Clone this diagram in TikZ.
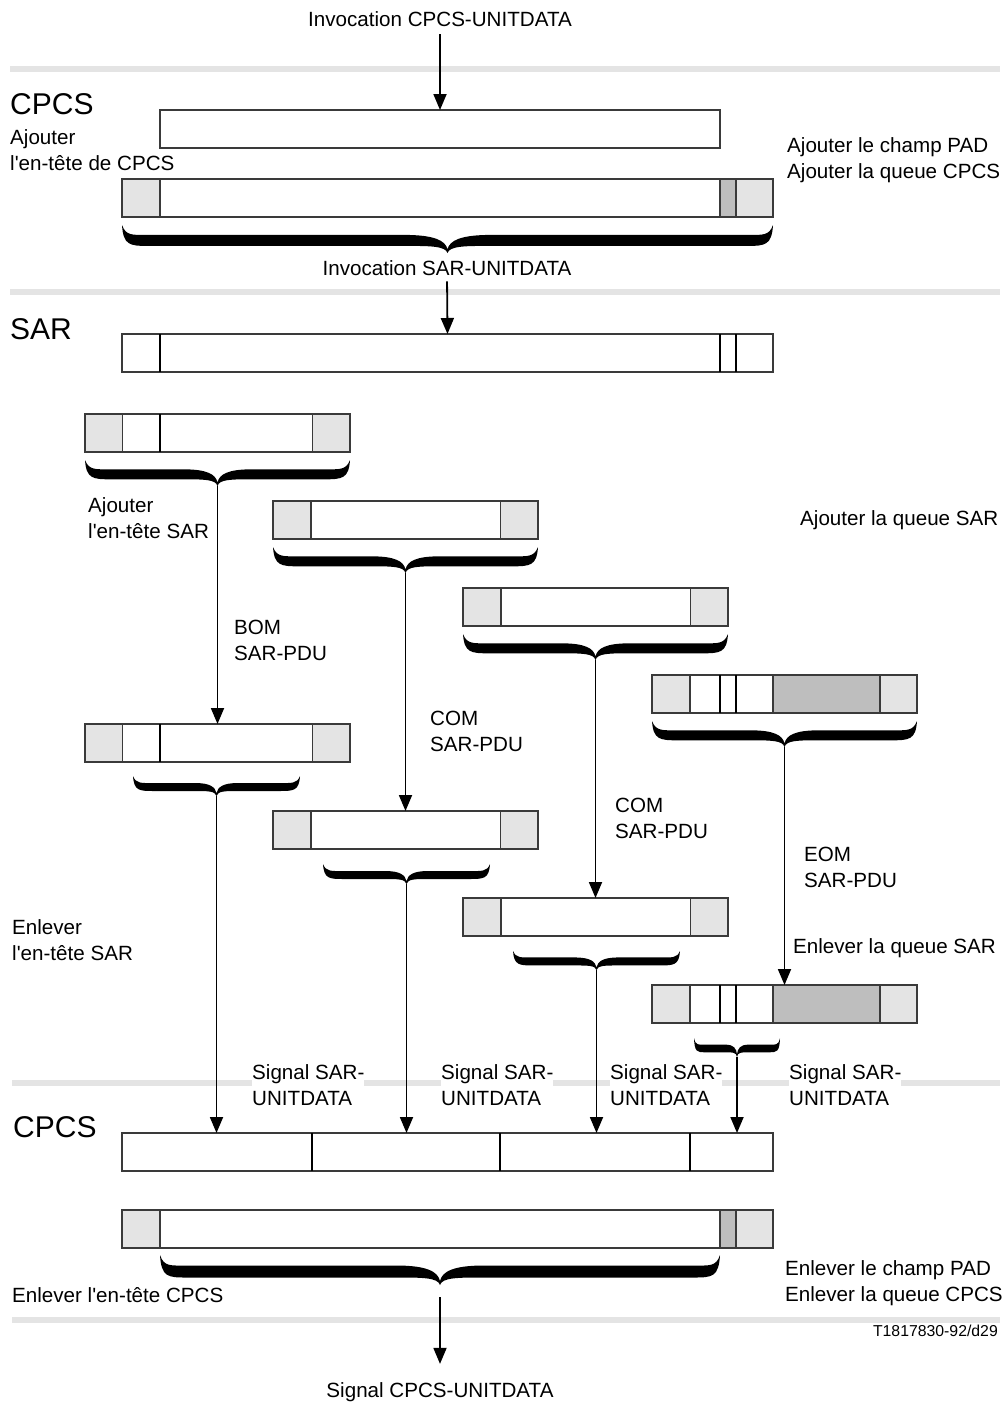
\documentclass[tikz,border=0pt]{standalone}
\usepackage{fontspec}
\setmainfont{Liberation Sans}[Ligatures=TeXOff]
\usetikzlibrary{arrows.meta,calc}

\definecolor{bandgray}{HTML}{E4E4E4}
\definecolor{lightcell}{HTML}{E4E4E4}
\definecolor{darkcell}{HTML}{BEBEBE}
\definecolor{edge}{HTML}{3A3A3A}

\tikzset{
  lbl/.style={font=\fontsize{20.6}{26}\selectfont, inner sep=0pt, anchor=base west},
  twoline/.style={font=\fontsize{20.6}{26}\selectfont, inner sep=0pt, align=left, anchor=north west},
  big/.style={font=\fontsize{30}{34}\selectfont, inner sep=0pt, anchor=base west},
  frame/.style={draw=edge, line width=1.3pt, inner sep=0pt, outer sep=0pt, minimum height=38pt, anchor=north west},
  cellL/.style={fill=lightcell, draw=edge, line width=1.1pt},
  cellD/.style={fill=darkcell, draw=edge, line width=1.1pt},
  sepline/.style={line width=2.6pt, black},
  band/.style={draw=bandgray, line width=6pt},
  arr/.style={line width=1.8pt, -{Triangle[length=16pt,width=13pt]}},
}

% heavy curly brace opening upwards: left x, right x, top y, tip y, half thickness, tip name
\newcommand{\heavybrace}[6]{%
  \pgfmathsetmacro\hbL{#1}%
  \pgfmathsetmacro\hbR{#2}%
  \pgfmathsetmacro\hbT{#3}%
  \pgfmathsetmacro\hbB{#4}%
  \pgfmathsetmacro\hbt{#5}%
  \pgfmathsetmacro\hbC{(\hbL+\hbR)/2}%
  \pgfmathsetmacro\hbA{\hbT+0.55*(\hbB-\hbT)}%
  \pgfmathsetmacro\hbN{\hbB-0.3*(\hbB-\hbA)}%
  \pgfmathsetmacro\hbr{min(26,0.12*(\hbR-\hbL))}%
  \pgfmathsetmacro\hbm{min(44,0.13*(\hbR-\hbL))}%
  \fill[black]
    (\hbL,\hbT) .. controls (\hbL+0.05*\hbr,\hbA+0.9*\hbt) and (\hbL+0.3*\hbr,\hbA+\hbt) .. (\hbL+\hbr,\hbA+\hbt)
    -- (\hbC-\hbm,\hbA+\hbt)
    .. controls (\hbC-0.4*\hbm,\hbA+\hbt) and (\hbC-0.05*\hbm,\hbA+\hbt) .. (\hbC,\hbB)
    .. controls (\hbC+0.05*\hbm,\hbA+\hbt) and (\hbC+0.4*\hbm,\hbA+\hbt) .. (\hbC+\hbm,\hbA+\hbt)
    -- (\hbR-\hbr,\hbA+\hbt)
    .. controls (\hbR-0.3*\hbr,\hbA+\hbt) and (\hbR-0.05*\hbr,\hbA+0.9*\hbt) .. (\hbR,\hbT)
    .. controls (\hbR-0.15*\hbr,\hbA-0.8*\hbt) and (\hbR-0.4*\hbr,\hbA-\hbt) .. (\hbR-\hbr,\hbA-\hbt)
    -- (\hbC+\hbm,\hbA-\hbt)
    .. controls (\hbC+0.3*\hbm,\hbA-\hbt) and (\hbC+0.05*\hbm,\hbA) .. (\hbC,\hbN)
    .. controls (\hbC-0.05*\hbm,\hbA) and (\hbC-0.3*\hbm,\hbA-\hbt) .. (\hbC-\hbm,\hbA-\hbt)
    -- (\hbL+\hbr,\hbA-\hbt)
    .. controls (\hbL+0.4*\hbr,\hbA-\hbt) and (\hbL+0.15*\hbr,\hbA-0.8*\hbt) .. (\hbL,\hbT) -- cycle;
  \coordinate (#6) at (\hbC,\hbB);
}

% SAR-PDU boxes (265 wide): name, left x, top y
\newcommand{\pduBOM}[3]{%
  \node[frame, minimum width=265pt] (#1) at (#2,#3) {};
  \begin{scope}[shift={(#1.north west)}]
    \filldraw[cellL] (0,0) rectangle (37.5,38);
    \filldraw[cellL] (227.5,0) rectangle (265,38);
    \draw[sepline] (75,0) -- (75,38);
  \end{scope}}
\newcommand{\pduCOM}[3]{%
  \node[frame, minimum width=265pt] (#1) at (#2,#3) {};
  \begin{scope}[shift={(#1.north west)}]
    \filldraw[cellL] (0,0) rectangle (38,38);
    \filldraw[cellL] (227.5,0) rectangle (265,38);
  \end{scope}}
\newcommand{\pduEOM}[3]{%
  \node[frame, minimum width=265pt] (#1) at (#2,#3) {};
  \begin{scope}[shift={(#1.north west)}]
    \filldraw[cellL] (0,0) rectangle (38,38);
    \filldraw[cellD] (121,0) rectangle (228,38);
    \filldraw[cellL] (228,0) rectangle (265,38);
    \draw[sepline] (68,0) -- (68,38);
    \draw[sepline] (84,0) -- (84,38);
  \end{scope}}
% CPCS-PDU with header, PAD and trailer: name, top y
\newcommand{\cpcspdu}[2]{%
  \node[frame, minimum width=651pt] (#1) at (122,#2) {};
  \begin{scope}[shift={(#1.north west)}]
    \filldraw[cellL] (0,0) rectangle (38,38);
    \filldraw[cellD] (598,0) rectangle (614,38);
    \filldraw[cellL] (614,0) rectangle (651,38);
  \end{scope}}

\begin{document}
\begin{tikzpicture}[x=1pt, y=-1pt]
\useasboundingbox (0,0) rectangle (1004,1403);

% layer separators
\draw[band] (10,69) -- (1000,69);
\draw[band] (10,292) -- (1000,292);
\draw[band] (12,1083) -- (1000,1083);
\draw[band] (12,1320) -- (1000,1320);

% ---- CPCS (sending side)
\node[lbl, anchor=base] (invC) at (440,26) {Invocation CPCS-UNITDATA};
\node[big] (cpcsTop) at (10,114) {CPCS};
\node[twoline] (addHdr) at (10,129) {Ajouter\\l'en-tête de CPCS};
\node[twoline] (addPad) at (787,137) {Ajouter le champ PAD\\Ajouter la queue CPCS};

\node[frame, minimum width=560pt] (sdu) at (160,110) {};
\cpcspdu{pduB}{179}
\heavybrace{122}{773}{225}{253}{5.5}{brB}

\node[lbl, anchor=base] (invS) at (447,275) {Invocation SAR-UNITDATA};

% ---- SAR
\node[big] (sarLbl) at (10,339) {SAR};
\node[frame, minimum width=651pt] (sarBar) at (122,334) {};
\draw[sepline] (160,334) -- (160,372);
\draw[sepline] (720,334) -- (720,372);
\draw[sepline] (736,334) -- (736,372);

\pduBOM{s1}{85}{414}
\pduCOM{s2}{273}{501}
\pduCOM{s3}{463}{588}
\pduEOM{s4}{652}{675}

\heavybrace{85}{350}{460}{486}{5}{brS1}
\heavybrace{273}{538}{547}{573}{5}{brS2}
\heavybrace{463}{728}{634}{660}{5}{brS3}
\heavybrace{652}{917}{721}{747}{5}{brS4}

\node[twoline] (addSarHdr) at (88,497) {Ajouter\\l'en-tête SAR};
\node[lbl] (addSarTrl) at (800,525) {Ajouter la queue SAR};
\node[twoline] (bom) at (234,620) {BOM\\SAR-PDU};
\node[twoline] (com1) at (430,711) {COM\\SAR-PDU};
\node[twoline] (com2) at (615,798) {COM\\SAR-PDU};
\node[twoline] (eom) at (804,847) {EOM\\SAR-PDU};

\pduBOM{r1}{85}{724}
\pduCOM{r2}{273}{811}
\pduCOM{r3}{463}{898}
\pduEOM{r4}{652}{985}

\heavybrace{133}{300}{776}{796}{4}{brR1}
\heavybrace{323}{490}{864}{884}{4}{brR2}
\heavybrace{513}{680}{951}{970}{4}{brR3}
\heavybrace{694}{780}{1038}{1057}{3.8}{brR4}

\node[twoline] (remSarHdr) at (12,919) {Enlever\\l'en-tête SAR};
\node[lbl] (remSarTrl) at (793,953) {Enlever la queue SAR};

\node[twoline, fill=white] (sig1) at (252,1064) {Signal SAR-\\UNITDATA};
\node[twoline, fill=white] (sig2) at (441,1064) {Signal SAR-\\UNITDATA};
\node[twoline, fill=white] (sig3) at (610,1064) {Signal SAR-\\UNITDATA};
\node[twoline, fill=white] (sig4) at (789,1064) {Signal SAR-\\UNITDATA};

% ---- CPCS (receiving side)
\node[big] (cpcsBot) at (13,1137) {CPCS};
\node[frame, minimum width=651pt] (joined) at (122,1133) {};
\draw[sepline] (312,1133) -- (312,1171);
\draw[sepline] (500,1133) -- (500,1171);
\draw[sepline] (690,1133) -- (690,1171);

\cpcspdu{pduD}{1210}
\heavybrace{160}{720}{1255}{1285}{6}{brD}

\node[lbl] (remHdr) at (12,1302) {Enlever l'en-tête CPCS};
\node[twoline] (remPad) at (785,1260) {Enlever le champ PAD\\Enlever la queue CPCS};
\node[font=\fontsize{15.8}{18}\selectfont, inner sep=0pt, anchor=base east] (ref) at (998,1336) {T1817830-92/d29};
\node[lbl, anchor=base] (sigC) at (440,1397) {Signal CPCS-UNITDATA};

% ---- primitives and data flow
\draw[arr, shorten <=8pt] (invC.south) -- (sdu.north);
\draw[arr, shorten <=6pt] (invS.south) -- (sarBar.north);
\draw[arr] (brS1) -- (brS1 |- r1.north);
\draw[arr] (brS2) -- (brS2 |- r2.north);
\draw[arr] (brS3) -- (brS3 |- r3.north);
\draw[arr] (brS4) -- (brS4 |- r4.north);
\draw[arr] (brR1) -- (brR1 |- joined.north);
\draw[arr] (brR2) -- (brR2 |- joined.north);
\draw[arr] (brR3) -- (brR3 |- joined.north);
\draw[arr] (brR4) -- (brR4 |- joined.north);
\draw[arr, shorten <=12pt, shorten >=18pt] (brD) -- (sigC.north);
\end{tikzpicture}
\end{document}
